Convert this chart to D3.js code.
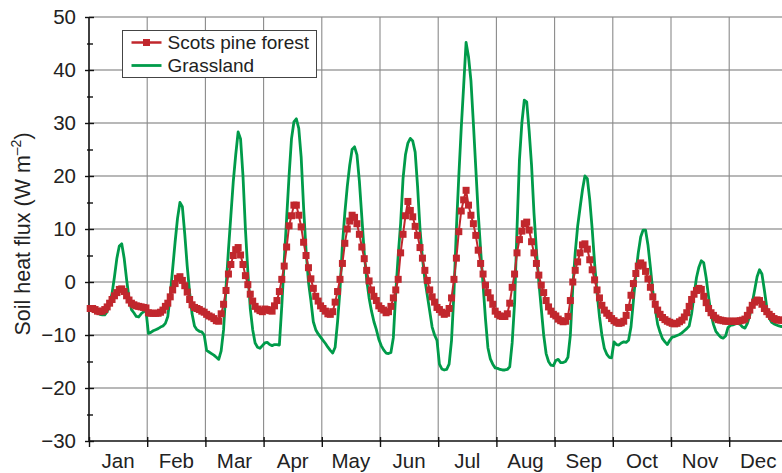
<!DOCTYPE html>
<html>
<head>
<meta charset="utf-8">
<script src="https://cdn.jsdelivr.net/npm/d3@7"></script>
<style>
  html, body { margin: 0; padding: 0; background: #fff; }
  svg { display: block; font-family: "Liberation Sans", Arial, Helvetica, sans-serif; }
</style>
</head>
<body>
<svg id="chart" width="782" height="473"></svg>
<script>
// month labels on the x axis
const months = ['Jan', 'Feb', 'Mar', 'Apr', 'May', 'Jun', 'Jul', 'Aug', 'Sep', 'Oct', 'Nov', 'Dec'];
const yTicks = [-30, -20, -10, 0, 10, 20, 30, 40, 50];

// mean diurnal course (24 hourly values) of soil heat flux, W m-2, one row per month
const pineForest = [
  [-5, -5, -5.2, -5.5, -5.6, -5.5, -5.2, -4.7, -4, -3.3, -2.6, -2, -1.4, -1.3, -1.8, -2.6, -3.4, -4, -4.3, -4.5, -4.6, -4.7, -4.8, -4.9],
  [-5.8, -5.9, -5.9, -5.9, -5.9, -5.7, -5.3, -4.6, -4, -2.8, -1.5, -0.3, 0.7, 1, 0.3, -0.7, -1.9, -3.3, -4.3, -4.8, -5, -5.2, -5.5, -5.7],
  [-6.1, -6.4, -6.6, -6.9, -7.3, -7.4, -6, -4.2, -1.6, 1.5, 3.3, 5, 6.1, 6.5, 5.1, 3.3, 1.2, -0.5, -2.3, -3.6, -4.6, -5.1, -5.4, -5.6],
  [-5.1, -5.2, -5.4, -5.5, -4.5, -3.5, -1.8, 0.5, 3, 6.6, 10.6, 12.5, 14.5, 14.5, 12.6, 10.4, 7.5, 5, 2.7, 0.6, -1.2, -2.7, -3.6, -4.5],
  [-5, -5.5, -6, -6.1, -5.6, -3.8, -1.8, 0.5, 3.5, 7.3, 10, 11.5, 12.6, 12.2, 11, 9, 6.6, 4.4, 2.2, 0.2, -1.5, -2.7, -3.5, -4.5],
  [-5, -5.3, -5.8, -5.6, -4.6, -3, -1.5, 0.5, 5.5, 9, 12.5, 15.2, 13.5, 12.3, 10.5, 8.8, 6.5, 4.5, 2.2, 0.3, -1.5, -2.8, -3.8, -4.8],
  [-5.2, -5.7, -6.1, -5.9, -5, -3, 0.5, 4.5, 9.5, 13.4, 15.5, 17.3, 14.5, 12.6, 11, 8.8, 6, 3.5, 1.5, -0.6, -2, -3, -4.2, -5.5],
  [-6.1, -6.4, -6.5, -6.5, -6, -4, -1, 1.5, 5.5, 8, 9.6, 11, 11.3, 9.8, 7.6, 5.5, 3.5, 1.3, -0.6, -2, -3.5, -4.7, -5.5, -6.1],
  [-6.4, -7, -7.3, -7.5, -7.4, -6.5, -3.5, 0, 2.2, 3.8, 5.5, 7, 7.2, 6.2, 4.2, 2.3, 0.4, -1.5, -3, -4.4, -5.3, -5.9, -6.3, -6.9],
  [-7.3, -7.6, -7.8, -7.7, -7.4, -6.3, -4.8, -2.5, -0.3, 1.6, 3, 3.6, 3.2, 2, 0.6, -1, -2.8, -4.2, -5.3, -6.1, -6.7, -7.1, -7.4, -7.6],
  [-7.8, -7.9, -7.8, -7.5, -7.2, -6.6, -5.8, -4.6, -3.3, -2.3, -1.6, -1.2, -1.4, -2.7, -3.9, -5, -5.8, -6.3, -6.8, -7.1, -7.2, -7.3, -7.4, -7.4],
  [-7.4, -7.4, -7.4, -7.4, -7.3, -7.2, -7, -6.3, -5.3, -4.4, -3.8, -3.4, -3.5, -4.2, -5, -5.6, -6.1, -6.5, -6.9, -7.1, -7.2, -7.2, -7.2, -7.2]
];

const grassland = [
  [-5.2, -5.4, -5.6, -5.8, -6.1, -6.2, -6.2, -5.6, -4, -2.2, 1, 4.5, 6.8, 7.2, 4.5, 0.5, -3, -5.2, -5.8, -6.5, -6.6, -6, -5.6, -5.4],
  [-9.7, -9.5, -9.2, -9, -8.8, -8.5, -8.3, -7.8, -6.5, -2.5, 2.5, 7.5, 12, 15, 14.2, 9, 3, -2, -6, -8.3, -9, -9.3, -9.4, -10],
  [-12.9, -13.2, -13.5, -13.8, -14.2, -14.6, -13, -9, -1, 6, 12.5, 19, 24, 28.3, 27, 20, 10, 2, -5, -9, -11.5, -12.3, -12.5, -12],
  [-11.5, -11.4, -11.8, -12, -11.8, -11.8, -11.9, -4.5, 4, 12, 20, 27, 30.2, 30.8, 29, 23.5, 14, 6, 0, -3.5, -7.5, -9, -9.8, -10.4],
  [-11, -11.6, -12.3, -12.9, -13.4, -12.3, -7.5, -1.5, 7, 13, 18, 22, 25, 25.5, 24, 19, 12.3, 5.5, 0.5, -3, -5.5, -7.5, -9, -10.8],
  [-12, -12.8, -13.4, -13.5, -13.3, -10.5, -2, 5, 11, 19.5, 24, 26.2, 27.1, 26.6, 24.5, 18, 10, 4.5, 0.5, -2.5, -5.5, -8.5, -10, -11],
  [-15.5, -16.4, -16.6, -16.5, -15.5, -11, -2, 10, 20, 29, 37, 45.2, 42.5, 38, 30, 21.5, 13, 6, -0.5, -7, -12.4, -14.5, -15.5, -16.2],
  [-16.3, -16.5, -16.6, -16.6, -16.5, -16, -11.5, -4, 10, 23, 30, 34.3, 34, 28.5, 22, 13, 6, 0, -5, -10, -13.5, -15, -15.7, -15.8],
  [-14.8, -14.6, -15.2, -15.2, -15, -14.2, -10, -1, 5.5, 10.5, 14, 17.4, 20, 19.5, 15.5, 10, 3.5, -2, -6.5, -10, -12.5, -13.6, -14.2, -14.3],
  [-11.3, -11.8, -11.9, -11.5, -11.3, -11.4, -11, -8.5, -3.5, 1.5, 5.5, 8.5, 9.8, 9.8, 7, 2.8, -1.8, -5, -8, -9.5, -10.7, -11.3, -11.8, -11],
  [-10.4, -10.3, -10.1, -9.9, -9.6, -9.2, -8.8, -8.3, -6, -2.5, 0.8, 2.8, 4, 3.6, 0.8, -2.8, -6, -8, -9.3, -9.9, -10.4, -10.6, -10.2, -8.6],
  [-8.2, -8.1, -7.9, -7.8, -8, -8.5, -8.7, -7.8, -6.3, -4, -1.5, 1, 2.3, 1.5, -1.5, -4.8, -6.8, -7.6, -7.9, -8.1, -8.3, -8.4, -8.4, -8.4]
];

const pineColor = '#c1272d';
const grassColor = '#009b4a';
const gridColor = '#a0a0a0';
const textColor = '#222';

const svg = d3.select('#chart');

// month index (0..12) -> px, the plot runs past the right edge of the picture
const xScale = d3.scaleLinear().domain([0, 12]).range([89, 787.4]);
const yScale = d3.scaleLinear().domain([-30, 50]).range([441, 17]);

// turn a month x hour table into a flat list of points
function toPoints(table) {
  return table.flatMap((row, m) => row.map((v, h) => ({ t: m + (h + 0.5) / 24, v: v })));
}

// grid
const grid = svg.append('g');
grid.selectAll('line.h')
  .data(yTicks.filter((d) => d > -30))
  .join('line')
  .attr('x1', xScale(0)).attr('x2', 782)
  .attr('y1', (d) => yScale(d)).attr('y2', (d) => yScale(d))
  .attr('stroke', gridColor).attr('stroke-width', 1.3);
grid.selectAll('line.v')
  .data(d3.range(1, 12))
  .join('line')
  .attr('x1', (d) => xScale(d)).attr('x2', (d) => xScale(d))
  .attr('y1', yScale(50)).attr('y2', yScale(-30))
  .attr('stroke', '#8a8a8a').attr('stroke-width', 1.1);

// axes
const yAxis = d3.axisLeft(yScale).tickValues(yTicks).tickSize(4).tickPadding(9);
const gy = svg.append('g').attr('transform', 'translate(' + xScale(0) + ',0)').call(yAxis);
gy.selectAll('.tick line').attr('x1', 5);

const yMinor = d3.axisLeft(yScale).tickValues(d3.range(-25, 50, 10)).tickSize(2).tickFormat('');
const gym = svg.append('g').attr('transform', 'translate(' + xScale(0) + ',0)').call(yMinor);
gym.selectAll('.tick line').attr('x1', 4);
gym.select('.domain').remove();

const xAxis = d3.axisBottom(xScale).tickValues(d3.range(0, 13)).tickSize(6).tickFormat('');
const gx = svg.append('g').attr('transform', 'translate(0,' + yScale(-30) + ')').call(xAxis);
gx.selectAll('.tick line').attr('y1', -4);
gx.select('.domain').attr('d', 'M' + xScale(0) + ',0H782');

gy.select('.domain').attr('d', 'M0,' + yScale(50) + 'V' + yScale(-30));

[gy, gym, gx].forEach((g) => {
  g.selectAll('.domain').attr('stroke', '#111').attr('stroke-width', 1.6);
  g.selectAll('.tick line').attr('stroke', '#111').attr('stroke-width', 1.4);
  g.selectAll('text').attr('font-size', 20.5).attr('fill', textColor)
    .attr('font-family', '"Liberation Sans", Arial, sans-serif');
});

// month names in the middle of each month
svg.append('g').selectAll('text')
  .data(months)
  .join('text')
  .attr('x', (d, i) => xScale(i + 0.5))
  .attr('y', 468)
  .attr('text-anchor', 'middle')
  .attr('font-size', 20.5)
  .attr('fill', textColor)
  .text((d) => d);

// y axis title
const title = svg.append('text')
  .attr('transform', 'translate(30,234) rotate(-90)')
  .attr('text-anchor', 'middle')
  .attr('font-size', 21.5)
  .attr('fill', textColor);
title.append('tspan').text('Soil heat flux (W m');
title.append('tspan').attr('font-size', 14).attr('dy', -9).text('\u20132');
title.append('tspan').attr('dy', 9).text(')');

// series
const line = d3.line().x((d) => xScale(d.t)).y((d) => yScale(d.v));

const grassPts = toPoints(grassland);
const pinePts = toPoints(pineForest);

svg.append('path')
  .datum(grassPts)
  .attr('d', line)
  .attr('fill', 'none')
  .attr('stroke', grassColor)
  .attr('stroke-width', 2.8)
  .attr('stroke-linejoin', 'round');

svg.append('path')
  .datum(pinePts)
  .attr('d', line)
  .attr('fill', 'none')
  .attr('stroke', pineColor)
  .attr('stroke-width', 2);

const mk = 7;
svg.append('g').selectAll('rect')
  .data(pinePts)
  .join('rect')
  .attr('x', (d) => xScale(d.t) - mk / 2)
  .attr('y', (d) => yScale(d.v) - mk / 2)
  .attr('width', mk)
  .attr('height', mk)
  .attr('fill', pineColor);

// legend
const legend = svg.append('g').attr('transform', 'translate(122.5,30.5)');
legend.append('rect')
  .attr('width', 194).attr('height', 47)
  .attr('fill', '#fff').attr('stroke', '#444').attr('stroke-width', 1);
legend.append('line')
  .attr('x1', 9).attr('x2', 39).attr('y1', 12).attr('y2', 12)
  .attr('stroke', pineColor).attr('stroke-width', 2.5);
legend.append('rect')
  .attr('x', 24 - mk / 2).attr('y', 12 - mk / 2).attr('width', mk).attr('height', mk)
  .attr('fill', pineColor);
legend.append('line')
  .attr('x1', 9).attr('x2', 39).attr('y1', 35).attr('y2', 35)
  .attr('stroke', grassColor).attr('stroke-width', 2.8);
legend.append('text').attr('x', 45).attr('y', 18.5).attr('font-size', 19).attr('fill', textColor).text('Scots pine forest');
legend.append('text').attr('x', 45).attr('y', 41.5).attr('font-size', 19).attr('fill', textColor).text('Grassland');
</script>
</body>
</html>
